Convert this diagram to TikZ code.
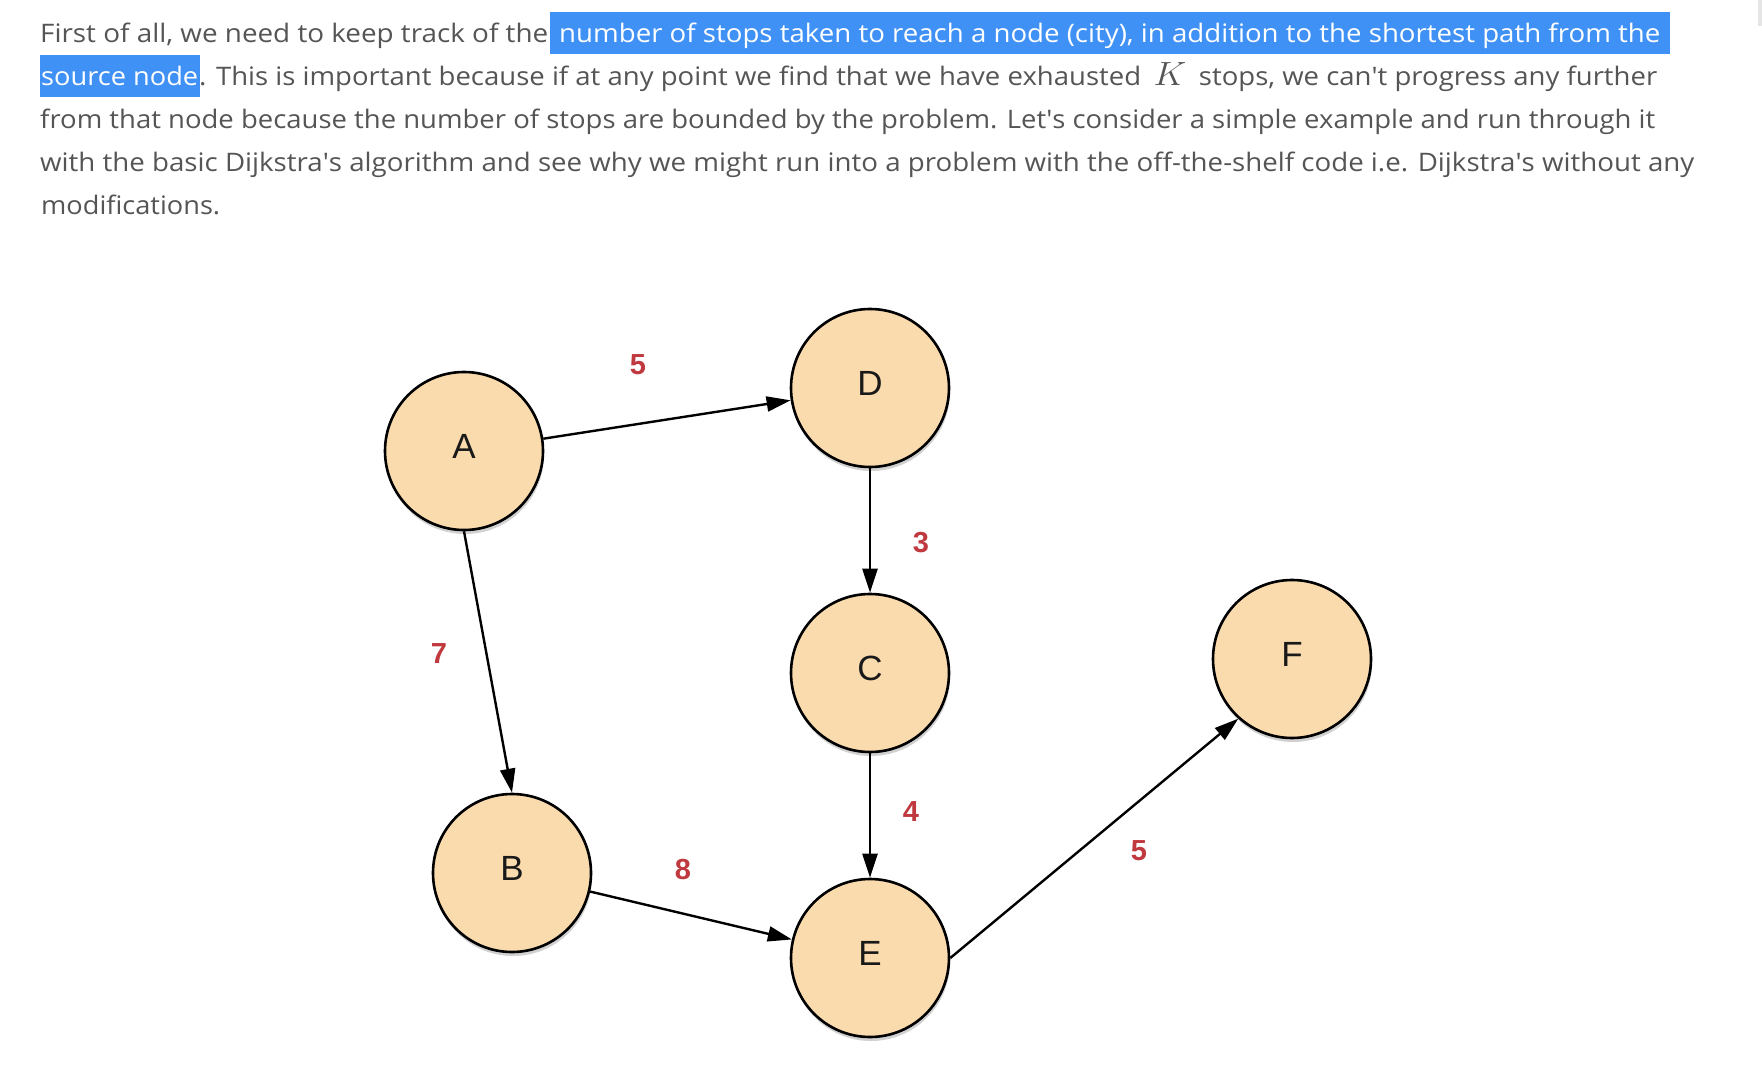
\documentclass[tikz,border=0pt]{standalone}
\usepackage{fontspec}
\usepackage{graphicx}
\usetikzlibrary{arrows.meta,shadows}
\newfontfamily\bodyfont{Open Sans}
\newfontfamily\nodefont{Liberation Sans}
\definecolor{bodygray}{RGB}{85,85,85}
\definecolor{hlblue}{RGB}{64,145,245}
\definecolor{cityfill}{RGB}{249,219,173}
\definecolor{wred}{RGB}{192,57,63}
\definecolor{bargray}{RGB}{229,229,229}
\newcommand\apos{\textquotesingle}
\begin{document}
\begin{tikzpicture}[x=1pt,y=-1pt,
  txt/.style={anchor=base west, inner sep=0pt, text=bodygray, font=\bodyfont\fontsize{25.5}{30}\selectfont},
  hl/.style={fill=hlblue, draw=none},
  city/.style={circle, draw=black, line width=2.6pt, fill=cityfill, minimum size=158pt, inner sep=0pt,
    text height=25pt, text depth=10pt, text=black!90, font=\nodefont\fontsize{35}{40}\selectfont,
    drop shadow={shadow xshift=1pt, shadow yshift=-4pt, opacity=0.18, fill=black}},
  wt/.style={text=wred, font=\nodefont\bfseries\fontsize{29}{32}\selectfont, inner sep=0pt},
  conn/.style={line width=2.4pt, -{Triangle[length=24pt,width=15pt]}}
]
\fill[white] (0,0) rectangle (1762,1086);
\useasboundingbox (0,0) rectangle (1762,1086);
\fill[bargray] (1758,0) rectangle (1762,26);

% highlights
\fill[hl] (550,12.3) rectangle (1670,53.7);
\fill[hl] (40,55.3) rectangle (200,96.7);

% paragraph
\node[txt] (l1a) at (40,42.3) {\resizebox{508pt}{\height}{First of all, we need to keep track of the}};
\node[txt, text=white] (l1b) at (559,42.3) {\resizebox{1101pt}{\height}{number of stops taken to reach a node (city), in addition to the shortest path from the}};
\node[txt, text=white] (l2a) at (41,85.3) {\resizebox{157pt}{\height}{source node}};
\node[txt] (l2b) at (199,85.3) {\resizebox{1458pt}{\height}{. This is important because if at any point we find that we have exhausted\hspace{5pt} \scalebox{1.35}{$K$}\hspace{5pt} stops, we can\apos t progress any further}};
\node[txt] (l3) at (40,128.3) {\resizebox{1615pt}{\height}{from that node because the number of stops are bounded by the problem. Let\apos s consider a simple example and run through it}};
\node[txt] (l4) at (40,171.3) {\resizebox{1654pt}{\height}{with the basic Dijkstra\apos s algorithm and see why we might run into a problem with the off-the-shelf code i.e. Dijkstra\apos s without any}};
\node[txt] (l5) at (41,214.3) {\resizebox{179pt}{\height}{modifications.}};

% graph
\node[city] (A) at (464,451) {A};
\node[city] (D) at (870,388) {D};
\node[city] (C) at (870,673) {C};
\node[city] (B) at (512,873) {B};
\node[city] (E) at (870,958) {E};
\node[city] (F) at (1292,659) {F};

\draw[conn] (A) -- (D);
\draw[conn] (A.south) -- (B.north);
\draw[conn] (D.south) -- (C.north);
\draw[conn] (C.south) -- (E.north);
\draw[conn] (B) -- (E);
\draw[conn] (E.east) -- (F.228);

\node[wt] (w1) at (638,365) {5};
\node[wt] (w2) at (921,543) {3};
\node[wt] (w3) at (439,654) {7};
\node[wt] (w4) at (911,812) {4};
\node[wt] (w5) at (683,870) {8};
\node[wt] (w6) at (1139,851) {5};
\end{tikzpicture}
\end{document}
